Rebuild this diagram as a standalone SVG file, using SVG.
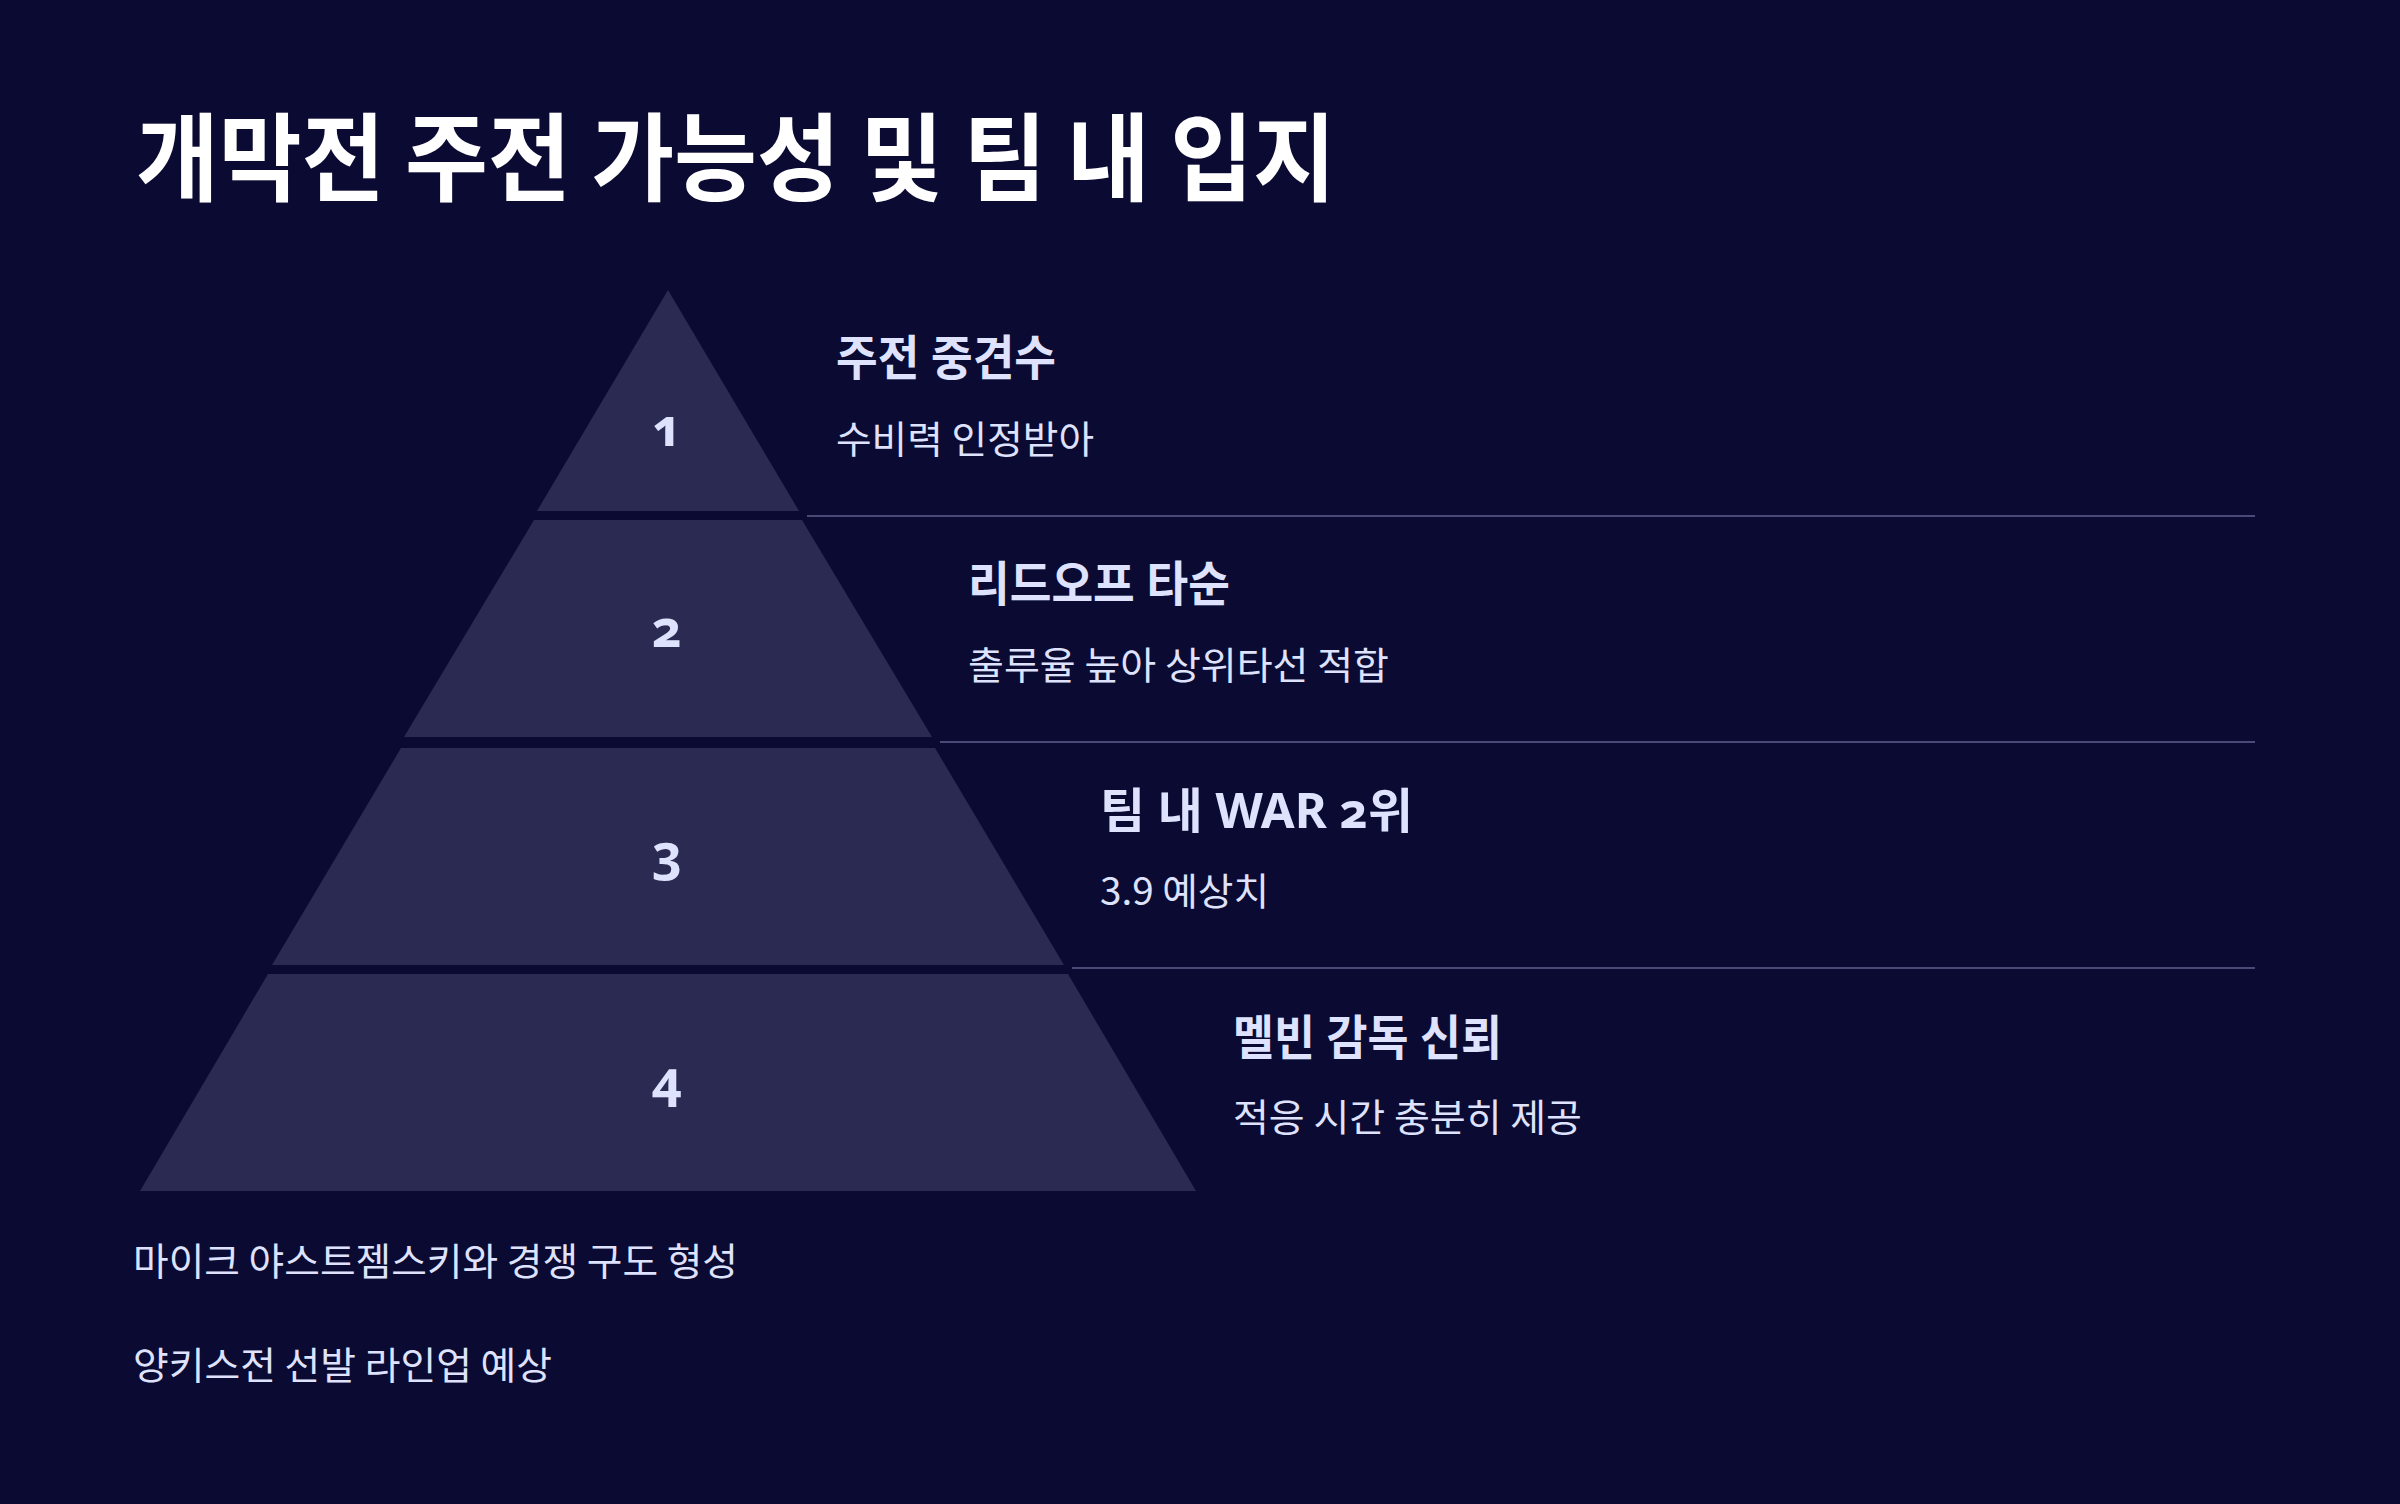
<svg xmlns="http://www.w3.org/2000/svg" width="2400" height="1504" viewBox="0 0 2400 1504">
<style>
.bg{fill:#0b0a33}
.tier{fill:#2b2a52}
.title{font-family:"Noto Sans CJK KR","Noto Sans",sans-serif;font-weight:700;font-size:96px;fill:#ffffff}
.num{font-family:"Noto Sans","Noto Sans CJK KR",sans-serif;font-weight:700;font-size:52px;fill:#dfe2fd;text-anchor:middle;font-variant-numeric:oldstyle-nums;font-feature-settings:"onum" 1}
.head{font-family:"Noto Sans","Noto Sans CJK KR",sans-serif;font-weight:700;font-size:48px;fill:#dfe2fd;font-variant-numeric:oldstyle-nums}
.desc{font-family:"Noto Sans CJK KR","Noto Sans",sans-serif;font-weight:400;font-size:38px;fill:#dfe2fd}
.sep{stroke:#4a4978;stroke-width:2;fill:none}
</style>
<rect class="bg" x="0" y="0" width="2400" height="1504"/>
<text id="title" class="title" x="136" y="193" textLength="1200" lengthAdjust="spacingAndGlyphs">개막전 주전 가능성 및 팀 내 입지</text>
<g id="connectors">
<line class="sep" x1="807" y1="516" x2="2255" y2="516"/>
<line class="sep" x1="940" y1="742" x2="2255" y2="742"/>
<line class="sep" x1="1072" y1="968" x2="2255" y2="968"/>
</g>
<g id="tier1">
<polygon class="tier" points="668,290 537,511 799,511"/>
<text class="num" x="667" y="446">1</text>
<text class="head" x="836" y="375" textLength="220" lengthAdjust="spacingAndGlyphs">주전 중견수</text>
<text class="desc" x="836" y="453" textLength="258" lengthAdjust="spacingAndGlyphs">수비력 인정받아</text>
</g>
<g id="tier2">
<polygon class="tier" points="534,520 802,520 932,737 404,737"/>
<text class="num" x="667" y="647">2</text>
<text class="head" x="968" y="601" textLength="262" lengthAdjust="spacingAndGlyphs">리드오프 타순</text>
<text class="desc" x="968" y="679" textLength="421" lengthAdjust="spacingAndGlyphs">출루율 높아 상위타선 적합</text>
</g>
<g id="tier3">
<polygon class="tier" points="401,748 935,748 1064,965 272,965"/>
<text class="num" x="667" y="872">3</text>
<text class="head" x="1100" y="828" textLength="313" lengthAdjust="spacingAndGlyphs">팀 내 WAR 2위</text>
<text class="desc" x="1100" y="905" textLength="169" lengthAdjust="spacingAndGlyphs">3.9 예상치</text>
</g>
<g id="tier4">
<polygon class="tier" points="268,974 1068,974 1196,1191 140,1191"/>
<text class="num" x="667" y="1098">4</text>
<text class="head" x="1233" y="1055" textLength="269" lengthAdjust="spacingAndGlyphs">멜빈 감독 신뢰</text>
<text class="desc" x="1233" y="1131" textLength="349" lengthAdjust="spacingAndGlyphs">적응 시간 충분히 제공</text>
</g>
<g id="notes">
<text class="desc" x="133" y="1275" textLength="605" lengthAdjust="spacingAndGlyphs">마이크 야스트젬스키와 경쟁 구도 형성</text>
<text class="desc" x="133" y="1379" textLength="419" lengthAdjust="spacingAndGlyphs">양키스전 선발 라인업 예상</text>
</g>
</svg>
